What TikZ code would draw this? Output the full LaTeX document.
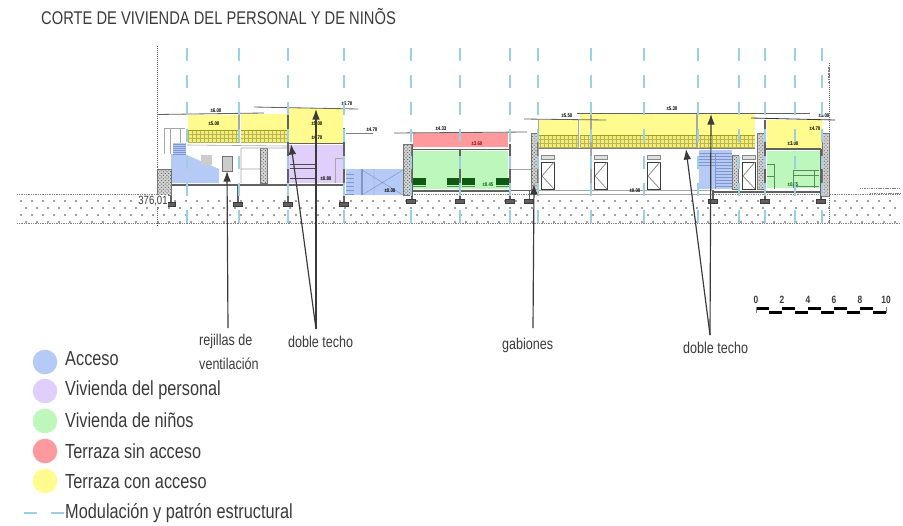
\documentclass[tikz,border=0pt]{standalone}
\usepackage{fontspec}
\setmainfont[FakeStretch=0.8]{Liberation Sans}
\usetikzlibrary{patterns,arrows.meta}

\definecolor{acceso}{HTML}{B5CBF5}
\definecolor{personal}{HTML}{E0CFFA}
\definecolor{ninos}{HTML}{BDF7BC}
\definecolor{sinacceso}{HTML}{FE9A9E}
\definecolor{conacceso}{HTML}{FFFB8E}
\definecolor{modulo}{HTML}{9CCFE3}
\definecolor{ink}{HTML}{3A3A3A}
\definecolor{camas}{HTML}{0F5A12}
\definecolor{peldano}{HTML}{7F96CC}

\tikzset{
  muro/.style={draw=ink!80, line width=1.6pt},
  fino/.style={draw=gray!70, line width=0.5pt},
  cota/.style={font=\fontsize{4.6}{5}\selectfont\bfseries, inner sep=0pt},
  nota/.style={font=\fontsize{13.4}{14}\selectfont, text=ink, inner sep=0pt, anchor=west},
  leyenda/.style={font=\fontsize{17.4}{18}\selectfont, text=ink, inner sep=0pt, anchor=west},
  flecha/.style={draw=ink, line width=1pt, -{Latex[length=9pt,width=6.5pt]}},
  eje/.style={draw=modulo, line width=1.2pt, dash pattern=on 11.5pt off 11.5pt},
  zapata/.style={fill=gray!75!black, draw=ink, line width=0.3pt}
}

\newcommand{\gavion}[4]{\fill[gray!35] (#1,#2) rectangle (#3,#4);
  \fill[pattern=crosshatch dots, pattern color=gray!70!black] (#1,#2) rectangle (#3,#4);
  \draw[ink!70, line width=0.4pt] (#1,#2) rectangle (#3,#4);}
\newcommand{\baranda}[4]{\fill[conacceso!88!olive] (#1,#2) rectangle (#3,#4);
  \draw[olive!60, line width=0.35pt, step=4] (#1,#2) grid (#3,#4);
  \foreach \hh in {0,4,8,12}
    \draw[olive!60, line width=0.35pt] (#1,#2+\hh) -- (#3,#2+\hh);
  \draw[olive!80, line width=0.5pt] (#1,#2) -- (#3,#2);}
\newcommand{\puerta}[1]{\draw[ink, line width=0.8pt] (#1,162) rectangle ++(13,27);
  \draw[gray, line width=0.6pt] (#1+13,162) -- (#1+1,176) -- (#1+13,189);
  \fill[gray!25] (#1,155) rectangle ++(13,4);
  \draw[ink!60, line width=0.4pt] (#1,155) rectangle ++(13,4);}

\begin{document}
\begin{tikzpicture}[x=0.03cm,y=-0.03cm]
  \useasboundingbox (0,0) rectangle (903,525);

  \node[inner sep=0pt, anchor=west, font=\fontsize{15.7}{16}\selectfont, text=ink] (titulo) at (41,17) {CORTE DE VIVIENDA DEL PERSONAL Y DE NINÕS};

  % terreno
  \foreach \yy/\xx in {201/21, 208/26, 215/21, 222/26}
    \foreach \nn in {0,...,79}
      \fill[gray!50!black] ({\xx+\nn*11},\yy) circle (0.9);
  \draw[gray, densely dotted, line width=0.5pt] (17,194) -- (157,194);
  \draw[gray, densely dotted, line width=0.5pt] (17,223) -- (900,223);
  \draw[gray, densely dotted, line width=0.5pt] (345,194) -- (900,194);
  \draw[ink!80, densely dotted, line width=0.7pt] (157,46) -- (157,226);
  \draw[ink!80, densely dotted, line width=0.7pt] (829,63) -- (829,223);
  \draw[gray, line width=1.5pt, densely dotted] (829,67) -- (829,84);

  % vivienda del personal
  \fill[white] (168,110) rectangle (345,190);
  \fill[conacceso] (188,115) rectangle (238,143);
  \fill[conacceso] (241,114) rectangle (287,143);
  \fill[conacceso] (289,108) rectangle (343,143);
  \baranda{188}{130}{238}{143}
  \baranda{241}{130}{287}{143}
  \fill[personal] (289,145) rectangle (343,183);
  \fill[acceso] (171,154) -- (187,155) -- (219,169) -- (219,183) -- (171,183) -- cycle;
  \fill[acceso] (173,143) rectangle (186,154);
  \foreach \yy in {144,146,...,154}
    \draw[peldano, line width=0.4pt] (173,\yy) -- (186,\yy);
  \fill[gray!40] (201,155) rectangle (212,165);
  \fill[gray!40] (222,156) rectangle (232,171);
  \draw[ink!70, line width=0.6pt] (222,156) rectangle (232,171);
  \gavion{260}{148}{267}{183}
  \draw[fino] (164,154) -- (164,128) -- (185,128) (170,128) -- (170,154) (180,128) -- (180,143);
  \draw[fino] (187,145) -- (287,146) (241,148) -- (287,148) (241,148) -- (241,183) (241,169) -- (260,169);
  \draw[fino] (335,158) -- (343,158) (335,158) -- (335,183);
  \foreach \yy in {164,168,178}
    \draw[gray!60!black, line width=0.6pt] (290,\yy) -- (316,\yy);
  \draw[muro] (289,143.5) -- (344,143.5);
  \draw[muro, line width=1pt] (288,110) -- (288,143);
  \draw[muro] (288,143) -- (288,204);
  \draw[muro] (344,128) -- (344,204);
  \draw[gray!70, line width=1pt] (239,115) -- (239,143);
  \draw[muro] (171,185) -- (344,185);
  \draw[muro] (171,185) -- (171,204) (238,185) -- (238,204);
  \gavion{157}{169}{171}{195}
  \foreach \xx in {171,238,288,344}
    \draw[zapata] (\xx-4.5,202) rectangle (\xx+4.5,206);
  \draw[ink!80, line width=0.7pt] (157,114.5) -- (264,113);
  \draw[ink!80, line width=0.7pt] (254,107) -- (358,109);
  \draw[gray, line width=0.7pt] (346,133) -- (373,133);

  % paso cubierto
  \fill[acceso] (346,169) rectangle (403,195);
  \draw[peldano, line width=1pt] (362,169) -- (362,195);
  \draw[peldano, line width=0.4pt] (374,169) -- (374,195) (362,170) -- (403,195) (362,195) -- (403,170);
  \foreach \yy in {174,178,...,194}
    \draw[peldano, line width=0.4pt] (346,\yy) -- (354,\yy);

  % vivienda de ninos
  \fill[sinacceso] (413,133) rectangle (508,147);
  \fill[ninos] (413,151) rectangle (508,189);
  \foreach \xx in {413,447,462,496}
    {
      \fill[camas] (\xx,178) rectangle ++(12.5,7);
      \fill[camas!70] (\xx,186) rectangle ++(12.5,1);
    }
  \draw[muro] (412,149.5) -- (510,149.5) (412,191) -- (510,191);
  \draw[muro] (412,144) -- (412,200) (460,150) -- (460,200) (510,144) -- (510,200);
  \gavion{403}{144}{411}{195}
  \foreach \xx in {411,460,510,529}
    \draw[zapata] (\xx-4.5,199) rectangle (\xx+4.5,203);
  \draw[ink!80, line width=0.7pt] (394,133) -- (527,132);
  \draw[fino] (511,169) -- (531,169);
  \draw[muro, line width=0.7pt] (511,190) -- (531,190) (529,190) -- (529,199);

  % vivienda del personal y de ninos
  \fill[conacceso] (539,120) rectangle (578,148);
  \fill[conacceso] (580,114) rectangle (755,148);
  \fill[conacceso] (767,120) rectangle (822,148);
  \baranda{539}{135}{578}{148}
  \baranda{580}{135}{696}{148}
  \baranda{699}{135}{755}{148}
  \draw[gray!70, line width=1pt] (578.5,120) -- (578.5,148) (591,114) -- (591,190) (697,114) -- (697,148);
  \draw[gray!70, line width=0.8pt] (538,120) -- (538,190);
  \gavion{531}{133}{537}{192}
  \draw[gray, line width=0.6pt] (539,148) -- (755,148);
  \draw[fino] (538,190) -- (712,190) (538,194) -- (712,194);
  \foreach \xx in {541,594,647,742}
    \puerta{\xx}
  \fill[acceso] (699,150) rectangle (732,189);
  \foreach \yy in {153,156,...,188}
    \draw[peldano, line width=0.35pt] (\ifnum\yy<168 699\else 716\fi,\yy) -- (732,\yy);
  \draw[peldano, line width=0.5pt] (715,153) -- (715,189);
  \gavion{732}{155}{738}{189}
  \fill[ninos] (767,151) rectangle (820,188);
  \draw[camas!70, line width=0.5pt] (767,164) -- (774,164) -- (774,189) (767,176) -- (774,176);
  \draw[camas!70, line width=0.7pt] (793,170) -- (819,170) (793,175) -- (819,175) (793,186) -- (819,186) (793,170) -- (793,188) (814,170) -- (814,188);
  \gavion{757}{133}{764}{189}
  \gavion{822}{133}{829}{196}
  \draw[muro] (766,149) -- (821,149) (713,192) -- (821,192);
  \draw[muro] (713,190) -- (713,201) (821,149) -- (821,201);
  \draw[muro, line width=1pt] (765,120) -- (765,149);
  \draw[muro] (765,149) -- (765,201);
  \foreach \xx in {713,765,821}
    \draw[zapata] (\xx-4.5,199) rectangle (\xx+4.5,203);
  \draw[ink!80, line width=0.7pt] (524,119) -- (606,120);
  \draw[ink!80, line width=0.7pt] (577,113) -- (810,113);
  \draw[ink, line width=0.7pt] (751,118) -- (835,120);
  \draw[gray, line width=0.5pt, dash pattern=on 1pt off 0.5pt] (860,188) -- (900,188) (870,193) -- (900,193);

  % cotas
  \node[cota] (c1) at (216,111) {±6.00};
  \node[cota] (c2) at (347,104) {±6.70};
  \node[cota] (c3) at (214,124) {±5.00};
  \node[cota] (c4) at (317,124) {±5.00};
  \node[cota] (c5) at (317,138) {±4.70};
  \node[cota] (c6) at (372,130) {±4.70};
  \node[cota] (c7) at (326,179) {±0.80};
  \node[cota] (c8) at (390,191) {±0.00};
  \node[cota] (c9) at (441,129) {±4.33};
  \node[cota, text=red!60!black] (c10) at (477,144) {±3.60};
  \node[cota, text=camas] (c11) at (488,185) {±0.45};
  \node[cota] (c12) at (567,116) {±5.50};
  \node[cota] (c13) at (635,191) {±0.00};
  \node[cota] (c14) at (672,109) {±5.30};
  \node[cota] (c15) at (824,116) {±5.00};
  \node[cota] (c16) at (815,129) {±4.70};
  \node[cota] (c17) at (793,144) {±3.00};
  \node[cota, text=camas] (c18) at (793,185) {±0.45};

  % ejes de modulacion
  \foreach \xx in {187,239,288,344,411,460,510,538,591,644,698,739,765,795,822}
    \draw[eje] (\xx,48) -- (\xx,223);

  \node[fill=white, inner sep=0.5pt, font=\fontsize{10.2}{10}\selectfont, text=ink] (nivel) at (153,201) {376,01};

  % notas
  \node[nota] (rejillas) at (199,341) {rejillas de};
  \node[nota] (ventilacion) at (199,364) {ventilación};
  \node[nota] (techouno) at (288,342) {doble techo};
  \node[nota] (gabiones) at (502,345) {gabiones};
  \node[nota] (techodos) at (683,348) {doble techo};

  \coordinate (brejillas) at (228,328);
  \coordinate (trejillas) at (227,171);
  \coordinate (btechouno) at (316,329);
  \coordinate (atechouno) at (291,144);
  \coordinate (ctechouno) at (316,109);
  \coordinate (bgabiones) at (533,328);
  \coordinate (tgabiones) at (534,184);
  \coordinate (btechodos) at (710,335);
  \coordinate (atechodos) at (686,149);
  \coordinate (ctechodos) at (711,114);

  \draw[flecha] (brejillas) -- (trejillas);
  \draw[flecha] (btechouno) -- (atechouno);
  \draw[flecha] (btechouno) -- (ctechouno);
  \draw[flecha] (bgabiones) -- (tgabiones);
  \draw[flecha] (btechodos) -- (atechodos);
  \draw[flecha] (btechodos) -- (ctechodos);

  % escala
  \foreach \nn in {0,...,9}
    {
      \pgfmathsetmacro{\yy}{mod(\nn,2)==0 ? 307 : 310.5}
      \fill[black] ({756+13*\nn},\yy) rectangle ++(13,3);
    }
  \draw[gray, line width=0.3pt] (756,307) -- (756,313) (886,307) -- (886,313);
  \foreach \nn in {0,2,...,10}
    \node[inner sep=0pt, font=\fontsize{9}{9}\selectfont\bfseries, text=ink] (esc\nn) at ({756+13*\nn},300) {\nn};

  % leyenda
  \foreach \yy/\col/\txt/\tty in {362/acceso/Acceso/359,391/personal/Vivienda del personal/390.5,421/ninos/Vivienda de niños/420.5,451/sinacceso/Terraza sin acceso/451.5,481/conacceso/Terraza con acceso/481.5}
    {
      \fill[\col] (45,\yy) circle (12.3);
      \node[leyenda] (ley\col) at (65,\tty) {\txt};
    }
  \draw[modulo, line width=0.9pt] (24,513) -- (37,513) (51,513) -- (64,513);
  \node[leyenda] (leymodulo) at (65,513.5) {Modulación y patrón estructural};
\end{tikzpicture}
\end{document}
